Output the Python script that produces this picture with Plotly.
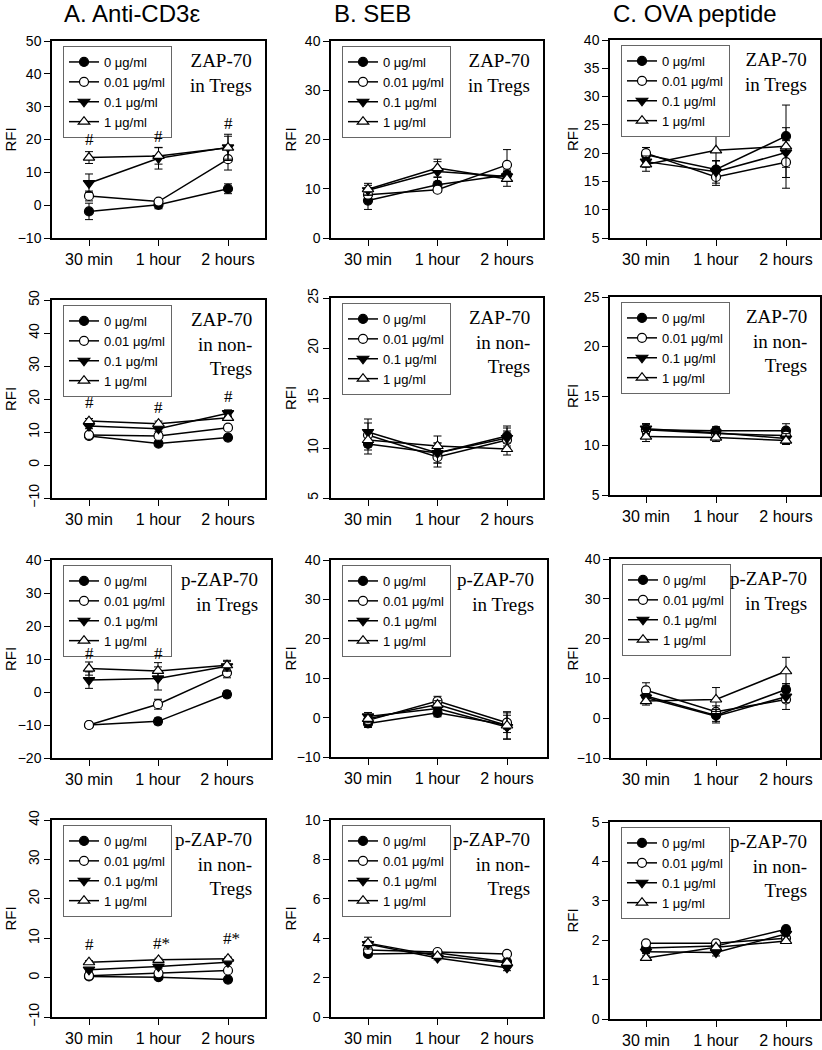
import plotly.graph_objects as go

# ---------------- data ----------------
categories = ["30 min", "1 hour", "2 hours"]
doses = ["0 μg/ml", "0.01 μg/ml", "0.1 μg/ml", "1 μg/ml"]
column_titles = ["A. Anti-CD3ε", "B. SEB", "C. OVA peptide"]
row_labels = ["ZAP-70<br>in Tregs", "ZAP-70<br>in non-<br>Tregs",
              "p-ZAP-70<br>in Tregs", "p-ZAP-70<br>in non-<br>Tregs"]

# each list: one row per dose (0, 0.01, 0.1, 1 μg/ml), one value per time point
a1_mean = [[-1.9, 0.1, 5.0], [2.8, 1.1, 14.0], [6.7, 14.3, 17.6], [14.5, 15.0, 17.5]]
a1_err = [[2.5, 1.2, 1.5], [1.5, 0.6, 3.3], [2.8, 3.3, 4.0], [1.8, 2.5, 3.5]]
b1_mean = [[7.6, 10.8, 12.8], [8.8, 9.8, 14.85], [9.7, 13.5, 12.5], [9.9, 14.2, 12.0]]
b1_err = [[1.8, 1.5, 1.0], [1.0, 0.5, 3.1], [1.0, 2.0, 1.0], [1.2, 1.8, 1.5]]
c1_mean = [[19.7, 17.1, 23.0], [20.0, 15.8, 18.4], [18.5, 16.7, 20.1], [18.0, 20.5, 21.2]]
c1_err = [[1.3, 1.5, 5.5], [1.0, 1.5, 4.6], [1.0, 2.0, 4.4], [1.2, 3.2, 1.0]]

a2_mean = [[8.8, 6.5, 8.3], [9.1, 8.8, 11.3], [11.8, 11.0, 15.7], [13.3, 12.5, 14.3]]
a2_err = [[0.7, 0.7, 0.7], [0.7, 0.7, 0.7], [0.8, 0.8, 1.0], [0.8, 0.8, 0.8]]
b2_mean = [[10.4, 9.5, 11.2], [11.3, 9.1, 10.8], [11.6, 9.5, 11.0], [10.8, 10.2, 9.9]]
b2_err = [[1.0, 1.0, 1.0], [1.2, 1.0, 0.9], [1.3, 1.0, 1.0], [1.0, 1.0, 0.6]]
c2_mean = [[11.6, 11.5, 11.5], [11.6, 11.2, 11.0], [11.7, 11.3, 10.7], [10.9, 10.8, 10.5]]
c2_err = [[0.6, 0.4, 0.7], [0.5, 0.4, 0.5], [0.5, 0.4, 0.5], [0.5, 0.4, 0.4]]

a3_mean = [[-10.0, -8.9, -0.7], [-10.0, -3.7, 5.8], [3.6, 4.1, 7.8], [7.1, 6.4, 8.1]]
a3_err = [[0.6, 1.0, 1.0], [0.5, 1.5, 1.5], [2.5, 3.5, 1.5], [2.0, 2.5, 1.5]]
b3_mean = [[-1.5, 1.2, -1.9], [-0.7, 4.2, -1.3], [0.3, 2.3, -2.4], [-0.3, 3.3, -2.0]]
b3_err = [[1.0, 1.0, 1.0], [1.0, 1.2, 2.5], [1.0, 1.0, 3.0], [1.0, 1.0, 3.5]]
c3_mean = [[5.6, 0.7, 7.2], [7.0, 1.6, 4.7], [5.2, 0.5, 5.4], [4.3, 4.7, 11.8]]
c3_err = [[1.5, 1.5, 1.5], [1.9, 1.5, 2.5], [1.0, 1.7, 1.5], [1.0, 3.0, 3.5]]

a4_mean = [[0.3, 0.1, -0.5], [0.5, 1.1, 1.8], [2.0, 2.8, 3.9], [3.9, 4.5, 4.8]]
a4_err = [[0.4, 0.4, 0.4], [0.4, 0.4, 0.4], [0.4, 0.4, 0.4], [0.4, 0.4, 0.4]]
b4_mean = [[3.2, 3.25, 2.8], [3.4, 3.3, 3.2], [3.7, 3.0, 2.5], [3.75, 3.1, 2.75]]
b4_err = [[0.1, 0.1, 0.1], [0.1, 0.1, 0.1], [0.15, 0.1, 0.15], [0.3, 0.1, 0.1]]
c4_mean = [[1.8, 1.85, 2.28], [1.92, 1.92, 2.05], [1.71, 1.69, 2.16], [1.55, 1.82, 1.98]]
c4_err = [[0.06, 0.05, 0.06], [0.04, 0.04, 0.05], [0.05, 0.09, 0.05], [0.05, 0.05, 0.05]]

# significance marks (anti-CD3ε column)
a1_marks, a1_mark_y = ["#", "#", "#"], [20.0, 20.8, 24.9]
a2_marks, a2_mark_y = ["#", "#", "#"], [18.9, 17.4, 20.9]
a3_marks, a3_mark_y = ["#", "#", ""], [11.7, 11.7, 0]
a4_marks, a4_mark_y = ["#", "#*", "#*"], [8.3, 8.75, 9.8]

# y ranges and tick steps
y_ranges = [[-10, 50], [0, 40], [5, 40],
            [-10, 50], [5, 25], [5, 25],
            [-20, 40], [-10, 40], [-10, 40],
            [-10, 40], [0, 10], [0, 5]]
y_dticks = [10, 10, 5, 10, 5, 5, 10, 10, 10, 10, 2, 1]
rotated_yticks = [False, False, False, True, True, False,
                  False, False, False, True, False, False]

means = [a1_mean, b1_mean, c1_mean, a2_mean, b2_mean, c2_mean,
         a3_mean, b3_mean, c3_mean, a4_mean, b4_mean, c4_mean]
errs = [a1_err, b1_err, c1_err, a2_err, b2_err, c2_err,
        a3_err, b3_err, c3_err, a4_err, b4_err, c4_err]
marks = {0: (a1_marks, a1_mark_y), 3: (a2_marks, a2_mark_y),
         6: (a3_marks, a3_mark_y), 9: (a4_marks, a4_mark_y)}

# ---------------- layout geometry (pixels) ----------------
W, H = 822, 1050
# (left, right, top, bottom, x of first category, category spacing)
boxes = [(52, 265, 41, 238, 89, 69.5), (331, 543, 41, 238, 368, 69.5), (610, 820, 40, 238, 646, 70),
         (52, 265, 300, 498, 89, 69.5), (331, 543, 298, 498, 368, 69.5), (610, 820, 297, 495, 646, 70),
         (52, 271, 560, 758, 89, 69), (331, 547, 560, 757, 368, 69.5), (611, 820, 559, 758, 646, 70),
         (52, 265, 820, 1017, 89, 69.5), (331, 543, 820, 1017, 368, 69.5), (610, 820, 822, 1019, 646, 70)]

SANS = "Arial, Liberation Sans, sans-serif"
SERIF = "Times New Roman, Liberation Serif, serif"

fills = ["black", "white", "black", "white"]
msyms = ["circle", "circle", "triangle-down", "triangle-up"]
msizes = [9, 9, 10, 10]


def px_x(p):
    return p / W


def px_y(p):
    return 1 - p / H


fig = go.Figure()
annotations = []
layout = dict(width=W, height=H, margin=dict(l=0, r=0, t=0, b=0, autoexpand=False),
              paper_bgcolor="white", plot_bgcolor="white", showlegend=True,
              font=dict(family=SANS, color="black"))

xs = list(range(len(categories)))
for i in range(12):
    l, r, t, b, c0, dx = boxes[i]
    sfx = "" if i == 0 else str(i + 1)
    xa, ya = "x" + sfx, "y" + sfx
    leg = "legend" + sfx
    for k in range(4):
        fig.add_trace(go.Scatter(
            x=xs, y=means[i][k], name=doses[k], mode="lines+markers",
            xaxis=xa, yaxis=ya, legend=leg,
            line=dict(color="black", width=1.5),
            marker=dict(symbol=msyms[k], size=msizes[k], color=fills[k],
                        line=dict(color="black", width=1.2)),
            error_y=dict(type="data", array=errs[i][k], color="black",
                         thickness=1, width=4),
        ))
    layout["xaxis" + sfx] = dict(
        domain=[px_x(l), px_x(r)], anchor=ya,
        range=[(l - c0) / dx, (r - c0) / dx],
        tickmode="array", tickvals=xs, ticktext=categories,
        ticks="outside", ticklen=6, tickwidth=1, tickcolor="black",
        showline=True, mirror=True, linecolor="black", linewidth=1.5,
        showgrid=False, zeroline=False, tickfont=dict(size=16, family=SANS),
    )
    layout["yaxis" + sfx] = dict(
        domain=[px_y(b), px_y(t)], anchor=xa,
        range=y_ranges[i], dtick=y_dticks[i], tick0=0,
        ticks="outside", ticklen=6, tickwidth=1, tickcolor="black",
        showline=True, mirror=True, linecolor="black", linewidth=1.5,
        showgrid=False, zeroline=False, tickfont=dict(size=14, family=SANS),
        tickangle=-90 if rotated_yticks[i] else 0,
    )
    layout[leg] = dict(
        x=px_x(l + 11), y=px_y(t + 5), xanchor="left", yanchor="top",
        xref="paper", yref="paper",
        bgcolor="white", bordercolor="#666666", borderwidth=1,
        font=dict(size=13, family=SANS), tracegroupgap=0, itemwidth=30,
    )
    # panel label
    annotations.append(dict(
        text=row_labels[i // 3], xref="paper", yref="paper",
        x=px_x(r - 11), y=px_y(t + 7), xanchor="right", yanchor="top",
        align="right", showarrow=False, font=dict(size=19, family=SERIF),
    ))
    # RFI axis label
    rfi_x = [10, 290, 572][i % 3]
    annotations.append(dict(
        text="RFI", xref="paper", yref="paper", x=px_x(rfi_x), y=px_y((t + b) / 2),
        xanchor="center", yanchor="middle", textangle=-90, showarrow=False,
        font=dict(size=15, family=SANS),
    ))
    if i in marks:
        mtxt, my = marks[i]
        for j, s in enumerate(mtxt):
            if s:
                annotations.append(dict(
                    text=s, x=xs[j], y=my[j], xref=xa, yref=ya,
                    xanchor="center", yanchor="middle", showarrow=False,
                    xshift=3 if len(s) > 1 else 0,
                    font=dict(size=17, family=SERIF),
                ))

for c, title in enumerate(column_titles):
    l = boxes[c][0]
    annotations.append(dict(
        text=title, xref="paper", yref="paper", x=px_x(l + (10 if c == 0 else 1)), y=px_y(14),
        xanchor="left", yanchor="middle", showarrow=False,
        font=dict(size=24, family=SANS),
    ))

layout["annotations"] = annotations
fig.update_layout(**layout)
fig.write_html(
    "out.html",
    config={"displayModeBar": False},
    post_script=("document.body.style.margin='0px';document.body.style.overflow='hidden';"
                 "document.documentElement.style.overflow='hidden';"),
)
